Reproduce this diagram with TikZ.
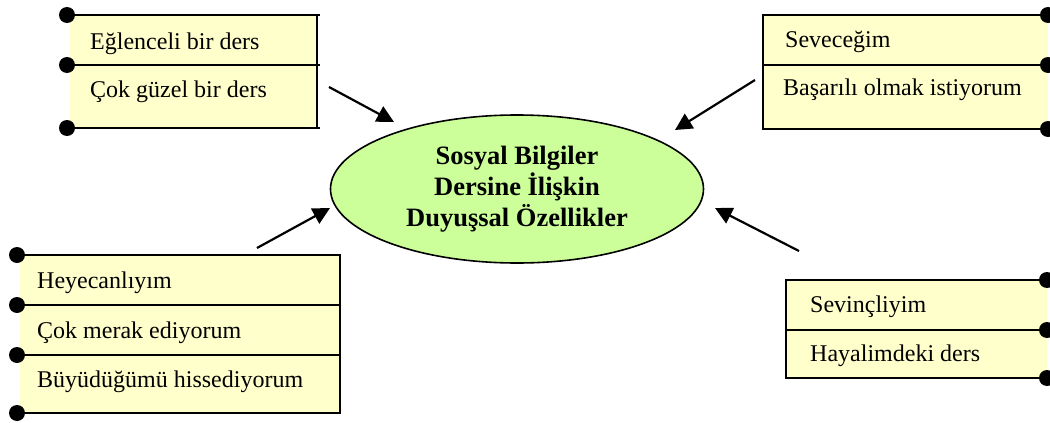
\documentclass[tikz,border=0pt]{standalone}
\usepackage{fontspec}
\setmainfont{Liberation Serif}
\usetikzlibrary{arrows.meta,shapes.geometric}
\definecolor{boxfill}{HTML}{FFFFCC}
\definecolor{ellfill}{HTML}{CCFF99}
\tikzset{
  rowline/.style={line width=2.2pt},
  sideline/.style={line width=1.8pt},
  rowtext/.style={anchor=base west, inner sep=0pt, font=\fontsize{24}{28}\selectfont},
  dotmark/.style={fill=black},
  conn/.style={line width=2.2pt, -{Triangle[length=17pt,width=17pt]}},
  mainell/.style={ellipse, draw, fill=ellfill, line width=1.6pt, minimum width=373, minimum height=148, inner sep=0pt, align=center, font=\bfseries\fontsize{26.5}{31}\selectfont},
}
\begin{document}
\begin{tikzpicture}[x=1pt,y=-1pt]
\useasboundingbox (0,0) rectangle (1050,423);

% ---------- top-left box
\fill[boxfill] (70,15) rectangle (317,128);
\draw[sideline] (317,15) -- (317,128);
\foreach \yy in {15,65,128} {
  \draw[rowline] (67,\yy) -- (320,\yy);
  \fill[dotmark] (67,\yy) circle (8);
}
\node[rowtext] (tl1) at (90,49) {Eğlenceli bir ders};
\node[rowtext] (tl2) at (90,97) {Çok güzel bir ders};

% ---------- top-right box
\fill[boxfill] (763,15) rectangle (1048,129);
\draw[sideline] (763,15) -- (763,129);
\foreach \yy in {15,65,129} {
  \draw[rowline] (762,\yy) -- (1048,\yy);
  \fill[dotmark] (1048,\yy) circle (8);
}
\node[rowtext] (tr1) at (785,47) {Seveceğim};
\node[rowtext] (tr2) at (783,95) {Başarılı olmak istiyorum};

% ---------- bottom-left box
\fill[boxfill] (20,255) rectangle (340,413);
\draw[sideline] (340,255) -- (340,413);
\foreach \yy in {255,305,355,413} {
  \draw[rowline] (17,\yy) -- (341,\yy);
  \fill[dotmark] (17,\yy) circle (8);
}
\node[rowtext] (bl1) at (37,288) {Heyecanlıyım};
\node[rowtext] (bl2) at (37,338) {Çok merak ediyorum};
\node[rowtext] (bl3) at (37,387) {Büyüdüğümü hissediyorum};

% ---------- bottom-right box
\fill[boxfill] (786,280) rectangle (1047,378);
\draw[sideline] (786,280) -- (786,378);
\foreach \yy in {280,330,378} {
  \draw[rowline] (785,\yy) -- (1047,\yy);
  \fill[dotmark] (1047,\yy) circle (8);
}
\node[rowtext] (br1) at (810,312) {Sevinçliyim};
\node[rowtext] (br2) at (810,361) {Hayalimdeki ders};

% ---------- centre
\node[mainell] (center) at (517,189) {Sosyal Bilgiler\\Dersine İlişkin\\Duyuşsal Özellikler};

% ---------- connectors
\coordinate (a1s) at (329,87);  \coordinate (a1e) at (394,122);
\coordinate (a2s) at (755,80);  \coordinate (a2e) at (675,130);
\coordinate (a3s) at (257,248); \coordinate (a3e) at (330,208);
\coordinate (a4s) at (799,251); \coordinate (a4e) at (715,208);
\draw[conn] (a1s) -- (a1e);
\draw[conn] (a2s) -- (a2e);
\draw[conn] (a3s) -- (a3e);
\draw[conn] (a4s) -- (a4e);
\end{tikzpicture}
\end{document}
